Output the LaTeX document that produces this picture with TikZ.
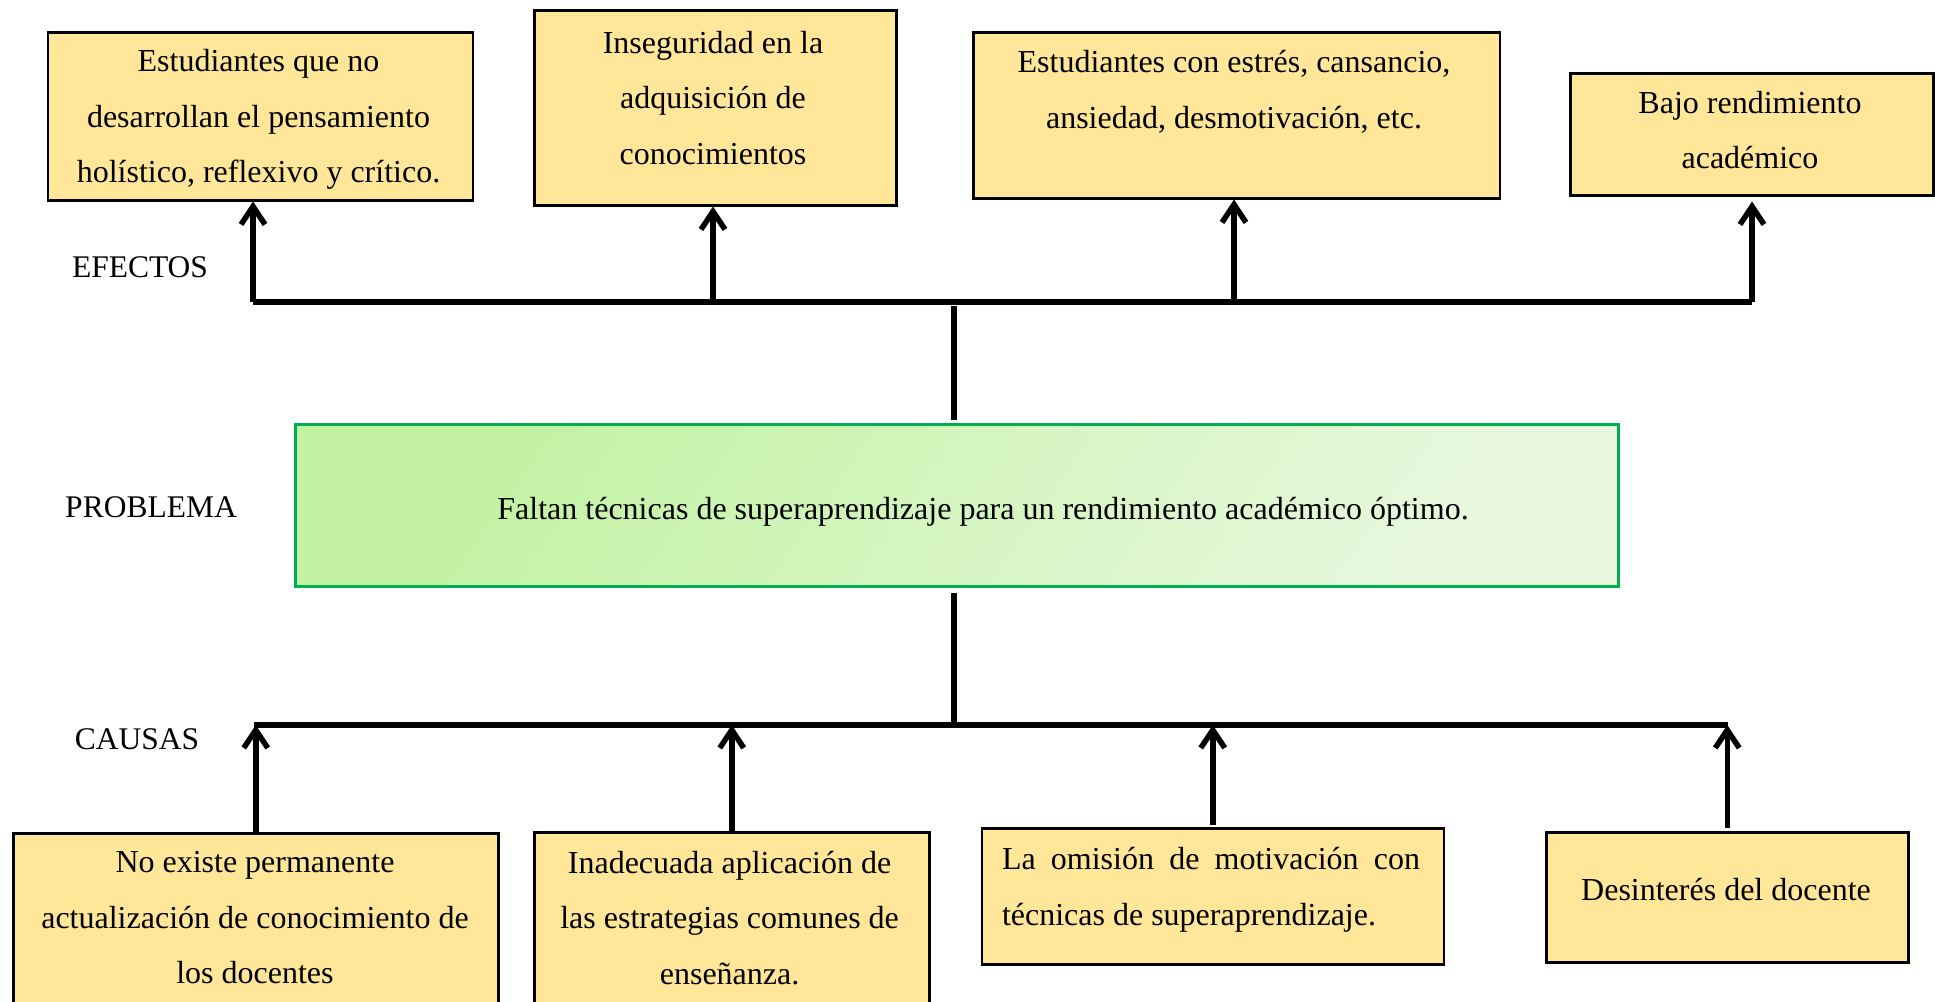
\documentclass[tikz,border=0pt]{standalone}
\usepackage{fontspec}
\setmainfont{Liberation Serif}
\usetikzlibrary{arrows.meta}
\definecolor{boxyellow}{HTML}{FFE699}
\definecolor{gtop}{HTML}{C2F2A2}
\definecolor{gbot}{HTML}{E8F8DF}
\definecolor{gborder}{HTML}{00B050}
\begin{document}
\begin{tikzpicture}[x=1pt,y=-1pt,
  box/.style={draw=black, line width=2.5pt, fill=boxyellow, inner sep=0pt, anchor=north west},
  txt/.style={font=\fontsize{32}{55.5}\selectfont, align=center, inner sep=0pt},
  lbl/.style={font=\fontsize{31.5}{38}\selectfont, inner sep=0pt},
  conn/.style={line width=5.5pt},
  arr/.style={conn, -{Straight Barb[length=18pt,width=24pt,line width=5.5pt]}}]
\useasboundingbox (0,0) rectangle (1935,1001);
% effect boxes
\node[box, minimum width=425pt, minimum height=168pt] (e1) at (46.5,31) {};
\node[box, minimum width=362pt, minimum height=195pt] (e2) at (533,9) {};
\node[box, minimum width=526.5pt, minimum height=166pt] (e3) at (972,31) {};
\node[box, minimum width=363pt, minimum height=122pt] (e4) at (1569,72) {};
% problem
\node[draw=gborder, line width=3pt, inner sep=0pt, anchor=north west,
      top color=gtop, bottom color=gbot, shading angle=55,
      minimum width=1323pt, minimum height=162pt] (p) at (294,423) {};
% cause boxes
\node[box, minimum width=485pt, minimum height=172pt] (c1) at (12,832) {};
\node[box, minimum width=395pt, minimum height=173pt] (c2) at (533,831) {};
\node[box, minimum width=462pt, minimum height=136pt] (c3) at (980.5,827) {};
\node[box, minimum width=362pt, minimum height=130pt] (c4) at (1545,831) {};
% texts
\node[txt] (t1) at (258.5,119.5) {Estudiantes que no\\desarrollan el pensamiento\\holístico, reflexivo y crítico.};
\node[txt] (t2) at (713,98) {Inseguridad en la\\adquisición de\\conocimientos};
\node[txt] (t3) at (1234,92) {Estudiantes con estrés, cansancio,\\ansiedad, desmotivación, etc.};
\node[txt] (t4) at (1750,130) {Bajo rendimiento\\académico};
\node[txt] (tp) at (983,512) {Faltan técnicas de superaprendizaje para un rendimiento académico óptimo.};
\node[txt] (t5) at (255,918) {No existe permanente\\actualización de conocimiento de\\los docentes};
\node[txt] (t6) at (729.6,918) {Inadecuada aplicación de\\las estrategias comunes de\\enseñanza.};
\node[txt, align=justify, text width=418pt] (t7) at (1211,890) {La omisión de motivación con\linebreak técnicas de superaprendizaje.};
\node[txt] (t8) at (1726,890) {Desinterés del docente};
% side labels
\node[lbl] (lef) at (140,267) {EFECTOS};
\node[lbl] (lpr) at (151,507) {PROBLEMA};
\node[lbl] (lca) at (137,739) {CAUSAS};
% effect connectors
\coordinate (ea1) at (253,302);
\coordinate (ea2) at (713,302);
\coordinate (ea3) at (1234,302);
\coordinate (ea4) at (1752,302);
\coordinate (em) at (954,302);
\draw[conn] (ea1) -- (ea4);
\draw[arr] (ea1) -- (ea1 |- e1.south);
\draw[arr] (ea2) -- (ea2 |- e2.south);
\draw[arr] (ea3) -- (ea3 |- e3.south);
\draw[arr, shorten >=5pt] (ea4) -- (ea4 |- e4.south);
\draw[conn, shorten <=4pt, shorten >=3pt] (em) -- (em |- p.north);
% cause connectors
\coordinate (ca1) at (254,725);
\coordinate (ca4) at (1728,725);
\coordinate (cm) at (954,725);
\draw[conn] (ca1) -- (ca4);
\draw[conn, shorten <=5pt] (cm |- p.south) -- (cm);
\draw[arr] (c1.north) -- (c1.north |- ca1);
\draw[arr] (c2.north) -- (c2.north |- ca1);
\draw[arr, shorten <=2pt] (c3.north) -- (c3.north |- ca1);
\draw[arr, shorten <=3pt] (c4.north) -- (c4.north |- ca1);
\end{tikzpicture}
\end{document}
